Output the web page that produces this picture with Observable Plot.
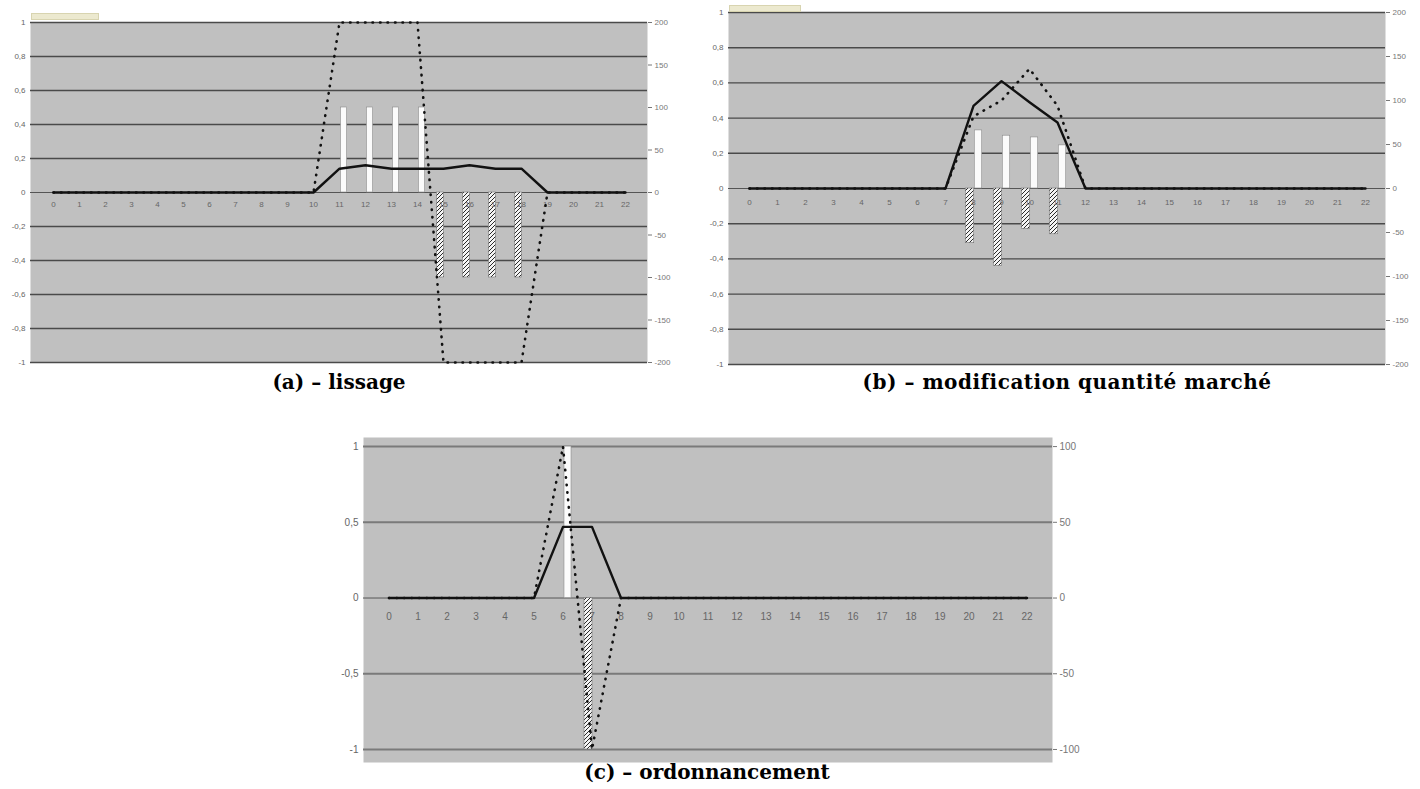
<!DOCTYPE html>
<html>
<head>
<meta charset="utf-8">
<script src="https://cdn.jsdelivr.net/npm/d3@7"></script>
<script src="https://cdn.jsdelivr.net/npm/@observablehq/plot@0.6"></script>
<style>
  body { margin: 0; background: #fff; width: 1420px; height: 789px; position: relative; overflow: hidden; }
  .panel { position: absolute; }
  .cap { position: absolute; font-family: "DejaVu Serif", "Liberation Serif", serif; font-weight: bold; font-size: 20px; color: #000; text-align: center; white-space: nowrap; }
  .leg { position: absolute; height: 5px; background: #ece9cf; border: 1px solid #d8d4b0; }
</style>
</head>
<body>
<svg width="0" height="0" style="position:absolute">
  <defs>
    <pattern id="hatch" patternUnits="userSpaceOnUse" width="4" height="4">
      <rect width="4" height="4" fill="#f4f4f4"></rect>
      <path d="M-1,1 l2,-2 M0,4 l4,-4 M3,5 l2,-2" stroke="#2a2a2a" stroke-width="1"></path>
    </pattern>
  </defs>
</svg>
<div id="pa" class="panel" style="left:0px;top:0px"></div>
<div id="pb" class="panel" style="left:700px;top:0px"></div>
<div id="pc" class="panel" style="left:330px;top:430px"></div>
<div class="leg" style="left:31px;top:13px;width:66px"></div>
<div class="leg" style="left:729px;top:5px;width:70px"></div>
<div class="cap" style="left:139px;top:370px;width:400px">(a) – lissage</div>
<div class="cap" style="left:817px;top:370px;width:500px;letter-spacing:0.5px">(b) – modification quantité marché</div>
<div class="cap" style="left:507px;top:760px;width:400px">(c) – ordonnancement</div>
<script>
// ---------- data ----------
const categories = [0,1,2,3,4,5,6,7,8,9,10,11,12,13,14,15,16,17,18,19,20,21,22];

// (a) lissage
const aLine   = [0,0,0,0,0,0,0,0,0,0,0,0.14,0.16,0.14,0.14,0.14,0.16,0.14,0.14,0,0,0,0];
const aDotted = [0,0,0,0,0,0,0,0,0,0,0,200,200,200,200,-200,-200,-200,-200,0,0,0,0];
const aWhite  = [null,null,null,null,null,null,null,null,null,null,null,100,100,100,100,null,null,null,null,null,null,null,null];
const aHatch  = [null,null,null,null,null,null,null,null,null,null,null,null,null,null,null,-100,-100,-100,-100,null,null,null,null];
const aLeftTicks  = [1,0.8,0.6,0.4,0.2,0,-0.2,-0.4,-0.6,-0.8,-1];
const aRightTicks = [200,150,100,50,0,-50,-100,-150,-200];

// (b) modification quantité marché
const bLine   = [0,0,0,0,0,0,0,0,0.47,0.61,0.49,0.375,0,0,0,0,0,0,0,0,0,0,0];
const bDotted = [0,0,0,0,0,0,0,0,82,100,136,94,0,0,0,0,0,0,0,0,0,0,0];
const bWhite  = [null,null,null,null,null,null,null,null,66,60,58,49,null,null,null,null,null,null,null,null,null,null,null];
const bHatch  = [null,null,null,null,null,null,null,null,-62,-88,-46,-52,null,null,null,null,null,null,null,null,null,null,null];
const bLeftTicks  = [1,0.8,0.6,0.4,0.2,0,-0.2,-0.4,-0.6,-0.8,-1];
const bRightTicks = [200,150,100,50,0,-50,-100,-150,-200];

// (c) ordonnancement
const cLine   = [0,0,0,0,0,0,0.47,0.47,0,0,0,0,0,0,0,0,0,0,0,0,0,0,0];
const cDotted = [0,0,0,0,0,0,100,-100,0,0,0,0,0,0,0,0,0,0,0,0,0,0,0];
const cWhite  = [null,null,null,null,null,null,100,null,null,null,null,null,null,null,null,null,null,null,null,null,null,null,null];
const cHatch  = [null,null,null,null,null,null,null,-100,null,null,null,null,null,null,null,null,null,null,null,null,null,null,null];
const cLeftTicks  = [1,0.5,0,-0.5,-1];
const cRightTicks = [100,50,0,-50,-100];

// ---------- drawing ----------
const fmtLeft = d => String(+d.toFixed(2)).replace(".", ",");

function panel(o) {
  const rows = categories.map((c, i) => ({
    c, line: o.line[i], dot: o.dotted[i], white: o.white[i], hatch: o.hatch[i]
  }));
  const bw = (o.width - o.mL - o.mR) / categories.length;
  const half = bw / 2;
  const R = o.rightMax;
  return Plot.plot({
    width: o.width, height: o.height,
    marginLeft: o.mL, marginRight: o.mR, marginTop: o.mT, marginBottom: o.mB,
    style: { fontFamily: "Liberation Sans, Arial, sans-serif", background: "transparent", overflow: "visible" },
    x: { type: "band", domain: categories, padding: 0, axis: null },
    y: { domain: o.domain, label: null },
    marks: [
      Plot.frame({ fill: "#c0c0c0", stroke: "none" }),
      Plot.ruleY(o.leftTicks.filter(t => t !== 0), { stroke: o.gridColor, strokeWidth: o.gridWidth }),
      Plot.ruleY([0], { stroke: "#555", strokeWidth: 1 }),
      Plot.barY(rows.filter(d => d.white != null), {
        x: "c", y: d => d.white / R, fill: "#fbfbfb", stroke: "#8a8a8a", strokeWidth: 0.6,
        insetLeft: half + 1, insetRight: half - o.barW - 1
      }),
      Plot.barY(rows.filter(d => d.hatch != null), {
        x: "c", y: d => d.hatch / R, fill: "url(#hatch)", stroke: "#777", strokeWidth: 0.6,
        insetLeft: half - o.barW, insetRight: half - 1
      }),
      Plot.text(rows, {
        x: "c", y: () => 0, text: d => String(d.c), dy: o.labelDy,
        fontSize: o.fontSize, fill: "#666"
      }),
      Plot.lineY(rows, {
        x: "c", y: d => d.dot / R, stroke: "#111", strokeWidth: 2.6,
        strokeDasharray: "0.5,7", strokeLinecap: "round"
      }),
      Plot.lineY(rows, { x: "c", y: "line", stroke: "#111", strokeWidth: 2.4 }),
      Plot.axisY(o.leftTicks, {
        anchor: "left", label: null, tickFormat: fmtLeft, tickSize: 0, tickPadding: 5,
        fontSize: o.fontSize, color: "#666"
      }),
      Plot.axisY(o.rightTicks.map(v => v / R), {
        anchor: "right", label: null, tickFormat: d => String(Math.round(d * R)), tickSize: 4, tickPadding: 3,
        fontSize: o.fontSize, color: "#777"
      })
    ]
  });
}

document.getElementById("pa").append(panel({
  width: 690, height: 372, mL: 30, mR: 43, mT: 22, mB: 10, domain: [-1, 1],
  line: aLine, dotted: aDotted, white: aWhite, hatch: aHatch,
  leftTicks: aLeftTicks, rightTicks: aRightTicks, rightMax: 200,
  gridColor: "#4a4a4a", gridWidth: 1.4, barW: 7, fontSize: 8, labelDy: 12
}));

document.getElementById("pb").append(panel({
  width: 720, height: 372, mL: 28, mR: 35, mT: 12, mB: 8, domain: [-1, 1],
  line: bLine, dotted: bDotted, white: bWhite, hatch: bHatch,
  leftTicks: bLeftTicks, rightTicks: bRightTicks, rightMax: 200,
  gridColor: "#4a4a4a", gridWidth: 1.4, barW: 8, fontSize: 8, labelDy: 14
}));

document.getElementById("pc").append(panel({
  width: 760, height: 340, mL: 33, mR: 38, mT: 7, mB: 8, domain: [-1.086, 1.06],
  line: cLine, dotted: cDotted, white: cWhite, hatch: cHatch,
  leftTicks: cLeftTicks, rightTicks: cRightTicks, rightMax: 100,
  gridColor: "#7a7a7a", gridWidth: 2, barW: 8, fontSize: 10, labelDy: 19
}));
</script>
</body>
</html>
